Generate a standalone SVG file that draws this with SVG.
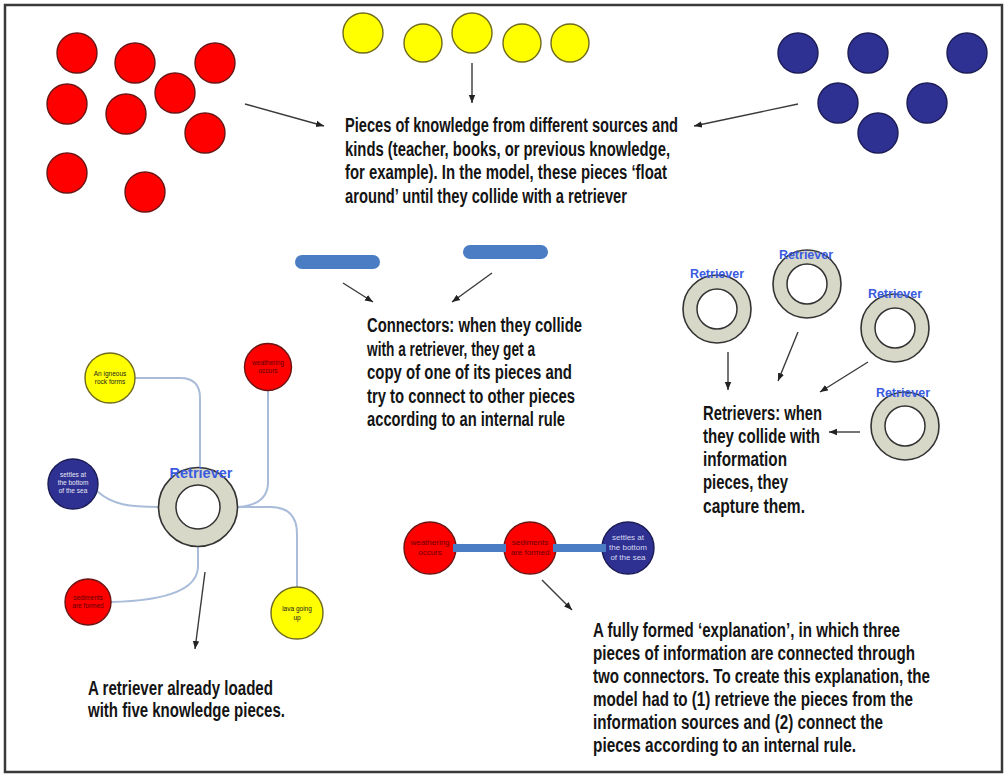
<svg xmlns="http://www.w3.org/2000/svg" width="1008" height="778" viewBox="0 0 1008 778">
<defs>
<marker id="ah" markerUnits="userSpaceOnUse" markerWidth="10" markerHeight="8" refX="8" refY="4" orient="auto">
<path d="M0,0.8 L8,4 L0,7.2 Z" fill="#222"/>
</marker>
<style>
.red{fill:#ff0000;stroke:#6a1515;stroke-width:1.4}
.yel{fill:#ffff00;stroke:#6e6a1e;stroke-width:1.4}
.blu{fill:#2e3192;stroke:#1b1b55;stroke-width:1.4}
.ring{fill:#d8d8c8;stroke:#333;stroke-width:1.6}
.hole{fill:#fff;stroke:#333;stroke-width:1.5}
.arr{stroke:#3a3a3a;stroke-width:1.4;fill:none;marker-end:url(#ah)}
.cur{stroke:#a9bcd9;stroke-width:2;fill:none}
.bar{stroke:#4a7dc4;stroke-linecap:round;fill:none}
.t{font-family:"Liberation Sans Narrow","Liberation Sans",Arial,sans-serif;font-weight:bold;font-size:19.5px;fill:#141414}
.rl{font-family:"Liberation Sans",Arial,sans-serif;font-weight:bold;font-size:12.5px;fill:#3a5ce0;text-anchor:middle}
.s{font-family:"Liberation Sans",Arial,sans-serif;font-size:6.5px;text-anchor:middle}
.m{font-family:"Liberation Sans",Arial,sans-serif;font-size:8px;text-anchor:middle}
</style>
</defs>
<rect x="0" y="0" width="1008" height="778" fill="#fff"/>
<rect x="5" y="5" width="997" height="767" fill="none" stroke="#3a3a3a" stroke-width="2.5"/>

<g id="red-pieces">
<circle class="red" cx="77" cy="53" r="20"/>
<circle class="red" cx="135" cy="63" r="20"/>
<circle class="red" cx="215" cy="63" r="20"/>
<circle class="red" cx="67" cy="104" r="20"/>
<circle class="red" cx="175" cy="93" r="20"/>
<circle class="red" cx="126" cy="114" r="20"/>
<circle class="red" cx="205" cy="133" r="20"/>
<circle class="red" cx="67" cy="173" r="20"/>
<circle class="red" cx="145" cy="192" r="20"/>
</g>
<g id="yellow-pieces">
<circle class="yel" cx="363" cy="33" r="20"/>
<circle class="yel" cx="423" cy="43" r="19"/>
<circle class="yel" cx="472" cy="33" r="20"/>
<circle class="yel" cx="522" cy="43" r="19"/>
<circle class="yel" cx="570" cy="43" r="19"/>
</g>
<g id="blue-pieces">
<circle class="blu" cx="798" cy="53" r="20"/>
<circle class="blu" cx="868" cy="53" r="20"/>
<circle class="blu" cx="967" cy="53" r="20"/>
<circle class="blu" cx="838" cy="103" r="20"/>
<circle class="blu" cx="927" cy="103" r="20"/>
<circle class="blu" cx="878" cy="133" r="20"/>
</g>

<g id="pieces-text">
<text class="t" x="345" y="132" textLength="333" lengthAdjust="spacingAndGlyphs">Pieces of knowledge from different sources and</text>
<text class="t" x="345" y="156" textLength="325" lengthAdjust="spacingAndGlyphs">kinds (teacher, books, or previous knowledge,</text>
<text class="t" x="345" y="179" textLength="322" lengthAdjust="spacingAndGlyphs">for example). In the model, these pieces ‘float</text>
<text class="t" x="345" y="203" textLength="282" lengthAdjust="spacingAndGlyphs">around’ until they collide with a retriever</text>
</g>

<g id="connector-bars">
<line class="bar" x1="302" y1="262" x2="373" y2="262" stroke-width="14"/>
<line class="bar" x1="470" y1="252" x2="541" y2="252" stroke-width="14"/>
</g>
<g id="connectors-text">
<text class="t" x="367" y="332" textLength="215" lengthAdjust="spacingAndGlyphs">Connectors: when they collide</text>
<text class="t" x="367" y="356" textLength="168" lengthAdjust="spacingAndGlyphs">with a retriever, they get a</text>
<text class="t" x="367" y="379" textLength="205" lengthAdjust="spacingAndGlyphs">copy of one of its pieces and</text>
<text class="t" x="367" y="403" textLength="208" lengthAdjust="spacingAndGlyphs">try to connect to other pieces</text>
<text class="t" x="367" y="426" textLength="198" lengthAdjust="spacingAndGlyphs">according to an internal rule</text>
</g>

<g id="retriever-1">
<circle class="ring" cx="717" cy="309" r="34"/>
<circle class="hole" cx="717" cy="309" r="20"/>
<text class="rl" x="717" y="278">Retriever</text>
</g>
<g id="retriever-2">
<circle class="ring" cx="807" cy="284" r="34"/>
<circle class="hole" cx="807" cy="284" r="20"/>
<text class="rl" x="806" y="259">Retriever</text>
</g>
<g id="retriever-3">
<circle class="ring" cx="895" cy="328" r="34"/>
<circle class="hole" cx="895" cy="328" r="20"/>
<text class="rl" x="895" y="298">Retriever</text>
</g>
<g id="retriever-4">
<circle class="ring" cx="905" cy="426" r="34"/>
<circle class="hole" cx="905" cy="426" r="20"/>
<text class="rl" x="903" y="397">Retriever</text>
</g>
<g id="retrievers-text">
<text class="t" x="703" y="420" textLength="119" lengthAdjust="spacingAndGlyphs">Retrievers: when</text>
<text class="t" x="703" y="443" textLength="117" lengthAdjust="spacingAndGlyphs">they collide with</text>
<text class="t" x="703" y="466" textLength="84" lengthAdjust="spacingAndGlyphs">information</text>
<text class="t" x="703" y="489" textLength="85" lengthAdjust="spacingAndGlyphs">pieces, they</text>
<text class="t" x="703" y="513" textLength="102" lengthAdjust="spacingAndGlyphs">capture them.</text>
</g>

<g id="links">
<path class="cur" d="M135,378 L180,378 Q200,378 200,398 L200,468"/>
<path class="cur" d="M97,491 C112,505 130,507 159,507"/>
<path class="cur" d="M268,390 L268,482 Q268,505 238,507"/>
<path class="cur" d="M238,507 L270,507 Q297,507 297,534 L297,587"/>
<path class="cur" d="M198,546 L198,566 Q198,600 111,602"/>
</g>
<g id="loaded-retriever">
<circle class="ring" cx="198" cy="507" r="39.5"/>
<circle class="hole" cx="198" cy="507" r="22"/>
<text class="rl" x="201" y="478" style="font-size:14.5px">Retriever</text>
</g>
<g id="node-igneous">
<circle class="yel" cx="110" cy="378" r="25"/>
<text class="s" x="110" y="376" fill="#222">An igneous</text>
<text class="s" x="110" y="384" fill="#222">rock forms</text>
</g>
<g id="node-settles">
<circle class="blu" cx="73" cy="484" r="25"/>
<text class="s" x="73" y="477" fill="#e8e8f4">settles at</text>
<text class="s" x="73" y="485" fill="#e8e8f4">the bottom</text>
<text class="s" x="73" y="493" fill="#e8e8f4">of the sea</text>
</g>
<g id="node-weathering">
<circle class="red" cx="268" cy="367" r="23.5"/>
<text class="s" x="268" y="365" fill="#5a0000">weathering</text>
<text class="s" x="268" y="373" fill="#5a0000">occurs</text>
</g>
<g id="node-sediments">
<circle class="red" cx="88" cy="602" r="23"/>
<text class="s" x="88" y="600" fill="#5a0000">sediments</text>
<text class="s" x="88" y="608" fill="#5a0000">are formed</text>
</g>
<g id="node-lava">
<circle class="yel" cx="297" cy="613" r="26"/>
<text class="s" x="297" y="611" fill="#222">lava going</text>
<text class="s" x="297" y="620" fill="#222">up</text>
</g>
<g id="loaded-text">
<text class="t" x="88" y="695" textLength="185" lengthAdjust="spacingAndGlyphs">A retriever already loaded</text>
<text class="t" x="88" y="717" textLength="197" lengthAdjust="spacingAndGlyphs">with five knowledge pieces.</text>
</g>

<g id="chain-1">
<circle class="red" cx="430" cy="548" r="26"/>
<text class="m" x="430" y="545" fill="#6a0000">weathering</text>
<text class="m" x="430" y="555" fill="#6a0000">occurs</text>
</g>
<g id="chain-2">
<circle class="red" cx="530" cy="548" r="26"/>
<text class="m" x="530" y="545" fill="#6a0000">sediments</text>
<text class="m" x="530" y="555" fill="#6a0000">are formed</text>
</g>
<g id="chain-3">
<circle class="blu" cx="628" cy="548" r="26"/>
<text class="m" x="628" y="540" fill="#d6d8f0">settles at</text>
<text class="m" x="628" y="550" fill="#d6d8f0">the bottom</text>
<text class="m" x="628" y="560" fill="#d6d8f0">of the sea</text>
</g>
<g id="chain-bars">
<line x1="453" y1="548" x2="506" y2="548" stroke="#4a7dc4" stroke-width="8"/>
<line x1="553" y1="548" x2="606" y2="548" stroke="#4a7dc4" stroke-width="8"/>
</g>
<g id="explanation-text">
<text class="t" x="593" y="637" textLength="307" lengthAdjust="spacingAndGlyphs">A fully formed ‘explanation’, in which three</text>
<text class="t" x="593" y="660" textLength="322" lengthAdjust="spacingAndGlyphs">pieces of information are connected through</text>
<text class="t" x="593" y="683" textLength="337" lengthAdjust="spacingAndGlyphs">two connectors. To create this explanation, the</text>
<text class="t" x="593" y="706" textLength="320" lengthAdjust="spacingAndGlyphs">model had to (1) retrieve the pieces from the</text>
<text class="t" x="593" y="729" textLength="290" lengthAdjust="spacingAndGlyphs">information sources and (2) connect the</text>
<text class="t" x="593" y="752" textLength="263" lengthAdjust="spacingAndGlyphs">pieces according to an internal rule.</text>
</g>

<g id="arrows">
<line class="arr" x1="245" y1="104" x2="324" y2="126"/>
<line class="arr" x1="472" y1="63" x2="472" y2="103"/>
<line class="arr" x1="798" y1="104" x2="694" y2="126"/>
<line class="arr" x1="343" y1="283" x2="373" y2="302"/>
<line class="arr" x1="492" y1="273" x2="452" y2="302"/>
<line class="arr" x1="728" y1="352" x2="728" y2="390"/>
<line class="arr" x1="798" y1="332" x2="778" y2="381"/>
<line class="arr" x1="868" y1="362" x2="820" y2="392"/>
<line class="arr" x1="860" y1="432" x2="829" y2="432"/>
<line class="arr" x1="205" y1="572" x2="195" y2="649"/>
<line class="arr" x1="542" y1="580" x2="572" y2="610"/>
</g>
</svg>
